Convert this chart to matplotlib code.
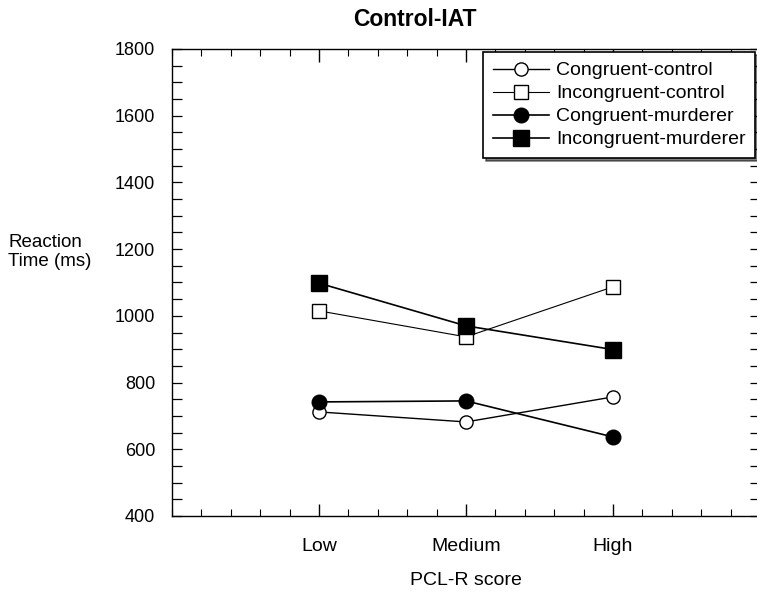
import matplotlib
matplotlib.use('Agg')
import matplotlib.pyplot as plt
from matplotlib.ticker import MultipleLocator

plt.rcParams['font.family'] = ['Liberation Sans', 'DejaVu Sans']

categories = ['Low', 'Medium', 'High']
congruent_control = [712, 682, 757]
incongruent_control = [1015, 937, 1087]
congruent_murderer = [742, 745, 637]
incongruent_murderer = [1098, 970, 899]

fig = plt.figure(figsize=(7.57, 5.94), dpi=100)
ax = fig.add_axes([172 / 757, 78 / 594, 588 / 757, 467 / 594])

x = [1, 2, 3]
ax.plot(x, congruent_control, '-o', color='black', lw=1.0, ms=9.5,
        mfc='white', mec='black', mew=1.0, label='Congruent-control')
ax.plot(x, incongruent_control, '-s', color='black', lw=0.8, ms=10,
        mfc='white', mec='black', mew=1.0, label='Incongruent-control')
ax.plot(x, congruent_murderer, '-o', color='black', lw=1.2, ms=10.5,
        mfc='black', mec='black', label='Congruent-murderer')
ax.plot(x, incongruent_murderer, '-s', color='black', lw=1.2, ms=11,
        mfc='black', mec='black', label='Incongruent-murderer')

ax.set_xlim(0, 4)
ax.set_ylim(400, 1800)
ax.set_xticks(x)
ax.set_xticklabels(categories)
ax.xaxis.set_minor_locator(MultipleLocator(0.2))
ax.yaxis.set_major_locator(MultipleLocator(200))
ax.yaxis.set_minor_locator(MultipleLocator(50))
ax.tick_params(which='both', direction='in', top=True, right=True)
ax.tick_params(axis='x', which='major', length=9, width=1.0, pad=16, labelsize=14)
ax.tick_params(axis='x', which='minor', length=5, width=0.8)
ax.tick_params(axis='y', which='both', length=7, width=0.9, pad=12, labelsize=13)
for s in ax.spines.values():
    s.set_linewidth(1.0)

ax.set_xlabel('PCL-R score', fontsize=14, labelpad=12)
fig.text(8 / 757, 1 - 252 / 594, 'Reaction\nTime (ms)', fontsize=13.5,
         ha='left', va='center', linespacing=1.1)
fig.text(415 / 757, 1 - 19 / 594, 'Control-IAT', fontsize=16.5,
         fontweight='bold', ha='center', va='center')

leg = ax.legend(loc='upper left', bbox_to_anchor=(483 / 757, 1 - 52 / 594),
                bbox_transform=fig.transFigure, borderaxespad=0,
                fontsize=14, handlelength=2.9, handletextpad=0.35,
                labelspacing=0.28, borderpad=0.5, fancybox=False,
                shadow={'color': 'black', 'ox': 2, 'oy': -2},
                framealpha=1)
leg.get_frame().set_edgecolor('black')
leg.get_frame().set_linewidth(1.2)

fig.savefig('out.png', dpi=100)
